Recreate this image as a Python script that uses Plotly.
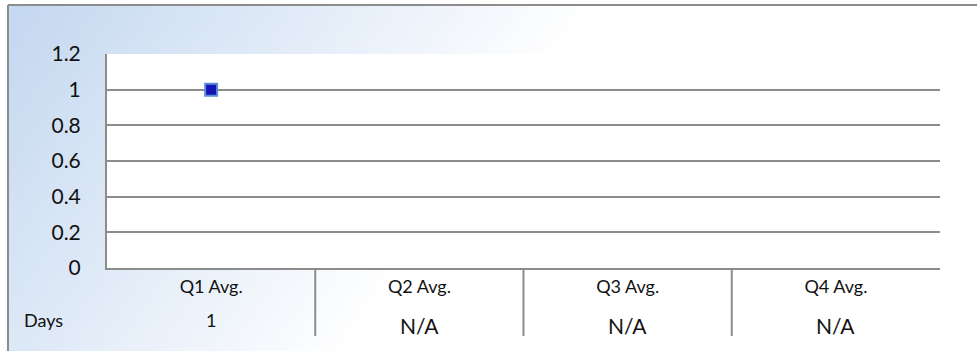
import base64, struct, zlib
import plotly.graph_objects as go

# ---- data ----
categories = ["Q1 Avg.", "Q2 Avg.", "Q3 Avg.", "Q4 Avg."]
days_values = [1, None, None, None]
row_label = "Days"
y_tickvals = [0, 0.2, 0.4, 0.6, 0.8, 1.0, 1.2]
y_ticktext = ["0", "0.2", "0.4", "0.6", "0.8", "1", "1.2"]

W, H = 977, 351
FONT = "Lato"
GRID = "#8c8c8c"
TXT = "#111111"


def px_x(px):
    return px / W


def px_y(py):
    return 1 - py / H


# ---- background gradient image (pure python PNG) ----
def make_png(w, h, fn):
    raw = b""
    for j in range(h):
        row = bytearray([0])
        for i in range(w):
            row.extend(fn(i / (w - 1), j / (h - 1)))
        raw += bytes(row)

    def chunk(tag, data):
        c = struct.pack(">I", len(data)) + tag + data
        return c + struct.pack(">I", zlib.crc32(tag + data) & 0xFFFFFFFF)

    ihdr = struct.pack(">IIBBBBB", w, h, 8, 2, 0, 0, 0)
    return (b"\x89PNG\r\n\x1a\n" + chunk(b"IHDR", ihdr)
            + chunk(b"IDAT", zlib.compress(raw, 9)) + chunk(b"IEND", b""))


c0 = (196, 216, 240)


def grad(fx, fy):
    s = fx / 0.6 + fy * 0.42
    s = max(0.0, min(1.0, s))
    return bytes(int(round(c + (255 - c) * s)) for c in c0)


png = make_png(120, 45, grad)
src = "data:image/png;base64," + base64.b64encode(png).decode()

fig = go.Figure()

fig.add_trace(go.Scatter(
    x=categories,
    y=days_values,
    mode="markers",
    marker=dict(symbol="square", size=12, color="#1515b5",
                line=dict(color="#5b8ed4", width=2)),
    cliponaxis=False,
    showlegend=False,
    hoverinfo="skip",
))

plot_x0, plot_x1 = 107, 940
plot_y0, plot_y1 = 54, 268

fig.update_layout(
    width=W, height=H,
    margin=dict(l=0, r=0, t=0, b=0),
    paper_bgcolor="white",
    plot_bgcolor="white",
    font=dict(family=FONT, color=TXT),
    xaxis=dict(
        domain=[px_x(plot_x0), px_x(plot_x1)],
        type="category",
        range=[-0.5, 3.5],
        showgrid=False,
        showline=True, linecolor=GRID, linewidth=2,
        ticks="", tickfont=dict(size=18, family=FONT, color=TXT),
        ticklabelstandoff=1,
        automargin=False, fixedrange=True,
    ),
    yaxis=dict(
        domain=[px_y(plot_y1), px_y(plot_y0)],
        range=[0, 1.2],
        tickmode="array", tickvals=y_tickvals, ticktext=y_ticktext,
        showgrid=True, gridcolor=GRID, gridwidth=2,
        zeroline=False,
        showline=True, linecolor=GRID, linewidth=2,
        ticks="", tickfont=dict(size=21, family=FONT, color=TXT),
        ticklabelstandoff=20,
        automargin=False, fixedrange=True,
    ),
    images=[dict(
        source=src, xref="paper", yref="paper",
        x=px_x(8), y=px_y(5), sizex=px_x(W - 8), sizey=(H - 5) / H,
        xanchor="left", yanchor="top", sizing="stretch", layer="below",
    )],
)

shapes = []
# white plot area above background gradient
shapes.append(dict(type="rect", xref="x domain", yref="y domain", x0=0, x1=1, y0=0, y1=1,
                   fillcolor="white", line=dict(width=0), layer="below"))
# outer frame (top and left)
shapes.append(dict(type="line", xref="paper", yref="paper", x0=px_x(8), x1=1,
                   y0=px_y(5), y1=px_y(5), line=dict(color=GRID, width=2)))
shapes.append(dict(type="line", xref="paper", yref="paper", x0=px_x(8), x1=px_x(8),
                   y0=px_y(5), y1=0, line=dict(color=GRID, width=2)))
# data-table separators between categories
for k in range(1, len(categories)):
    shapes.append(dict(type="line", xref="x", yref="paper", x0=k - 0.5, x1=k - 0.5,
                       y0=px_y(plot_y1), y1=px_y(336), line=dict(color=GRID, width=2)))
fig.update_layout(shapes=shapes)

annotations = [dict(text=row_label, xref="paper", yref="paper", x=px_x(43), y=px_y(320),
                    xanchor="center", yanchor="middle",
                    showarrow=False, font=dict(size=18, family=FONT, color=TXT))]
for cat, v in zip(categories, days_values):
    if v is None:
        annotations.append(dict(text="N/A", xref="x", yref="paper", x=cat, y=px_y(325),
                                xanchor="center", yanchor="middle",
                                showarrow=False, font=dict(size=21, family=FONT, color=TXT)))
    else:
        annotations.append(dict(text=f"{v:g}", xref="x", yref="paper", x=cat, y=px_y(320),
                                xanchor="center", yanchor="middle",
                                showarrow=False, font=dict(size=18, family=FONT, color=TXT)))
fig.update_layout(annotations=annotations)

fig.write_html("out.html", config=dict(displayModeBar=False),
               post_script="document.body.style.margin='0';")
